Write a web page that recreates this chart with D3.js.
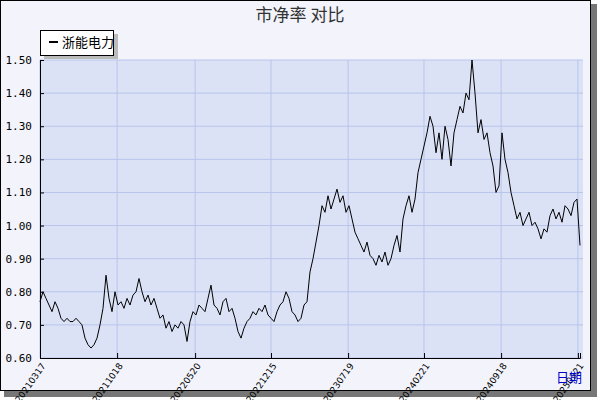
<!DOCTYPE html>
<html><head><meta charset="utf-8">
<script src="https://cdn.jsdelivr.net/npm/d3@7"></script>
<style>body{margin:0;background:#fff}svg{display:block}</style>
</head><body><svg width="600" height="400"></svg>
<script>
var values = [
 0.77,0.80,0.78,0.76,0.74,0.77,0.75,0.72,0.71,0.72,
 0.71,0.71,0.72,0.71,0.70,0.66,0.64,0.63,0.64,0.66,
 0.70,0.75,0.85,0.78,0.74,0.80,0.76,0.77,0.75,0.78,
 0.76,0.79,0.80,0.84,0.80,0.77,0.79,0.76,0.78,0.75,
 0.72,0.73,0.69,0.71,0.68,0.70,0.69,0.71,0.70,0.65,
 0.71,0.74,0.73,0.76,0.75,0.74,0.78,0.82,0.76,0.75,
 0.73,0.77,0.78,0.74,0.75,0.72,0.68,0.66,0.69,0.71,
 0.72,0.74,0.73,0.75,0.74,0.76,0.73,0.72,0.71,0.74,
 0.76,0.77,0.80,0.78,0.74,0.73,0.71,0.72,0.76,0.77,
 0.86,0.90,0.95,1.00,1.06,1.04,1.09,1.05,1.08,1.11,
 1.07,1.09,1.04,1.06,1.02,0.98,0.96,0.94,0.92,0.95,
 0.91,0.90,0.88,0.91,0.89,0.92,0.88,0.90,0.94,0.97,
 0.92,1.02,1.06,1.09,1.04,1.08,1.16,1.20,1.24,1.28,
 1.33,1.30,1.22,1.28,1.20,1.30,1.26,1.18,1.28,1.32,
 1.36,1.34,1.40,1.38,1.50,1.40,1.28,1.32,1.26,1.28,
 1.22,1.18,1.10,1.12,1.28,1.20,1.16,1.10,1.06,1.02,
 1.04,1.00,1.02,1.04,1.00,1.01,0.99,0.96,0.99,0.98,
 1.03,1.05,1.02,1.04,1.01,1.06,1.05,1.03,1.07,1.08,
 0.94
];
var tickLabels = ["20210317","20211018","20220520","20221215","20230719","20240221","20240918","20250321"];
var tickIndex = [0, 25.7, 51.7, 77, 102.7, 128, 153.7, 179.3];
var yTicks = [0.60,0.70,0.80,0.90,1.00,1.10,1.20,1.30,1.40,1.50];

var svg = d3.select("svg");
var pLeft = 40, pRight = 580, pTop = 60, pBottom = 358;

// outer frame with shadow
svg.append("rect").attr("x",4).attr("y",4).attr("width",593).attr("height",393).attr("fill","#777");
svg.append("rect").attr("x",0.5).attr("y",0.5).attr("width",590).attr("height",390)
  .attr("fill","#f2f3fb").attr("stroke","#000");

var x = d3.scaleLinear().domain([0, values.length - 1]).range([pLeft, pRight]);
var y = d3.scaleLinear().domain([0.6, 1.5]).range([pBottom, pTop]);

svg.append("rect").attr("x",pLeft).attr("y",pTop).attr("width",pRight-pLeft+3).attr("height",pBottom-pTop)
  .attr("fill","#dce2f6");

// grid
svg.selectAll(".gy").data(yTicks).enter().append("line")
  .attr("x1",pLeft).attr("x2",pRight+3).attr("y1",d=>y(d)).attr("y2",d=>y(d))
  .attr("stroke","#b7c4ea");
svg.selectAll(".gx").data(tickIndex).enter().append("line")
  .attr("x1",d=>x(d)).attr("x2",d=>x(d)).attr("y1",pTop).attr("y2",pBottom)
  .attr("stroke","#b7c4ea");

// axes
var yAxis = svg.append("g").attr("transform","translate("+pLeft+",0)")
  .call(d3.axisLeft(y).tickValues(yTicks).tickFormat(d3.format(".2f")).tickSize(-4).tickPadding(8));
var xAxis = svg.append("g").attr("transform","translate(0,"+pBottom+")")
  .call(d3.axisBottom(x).tickValues(tickIndex).tickFormat((d,i)=>tickLabels[i]).tickSize(-5));
[yAxis, xAxis].forEach(function(a){
  a.select(".domain").attr("stroke","#000");
  a.selectAll("line").attr("stroke","#000");
  a.selectAll("text").attr("fill","#000").attr("font-family","DejaVu Sans Mono, monospace").attr("font-size",11);
});
xAxis.selectAll("text").attr("font-size",9).attr("font-family","DejaVu Sans, sans-serif")
  .attr("text-anchor","end").attr("y",0).attr("dy","0.35em")
  .attr("transform","translate(3,6) rotate(-55)");

// line
svg.append("path").datum(values)
  .attr("d", d3.line().x((d,i)=>x(i)).y(d=>y(d)))
  .attr("fill","none").attr("stroke","#000").attr("stroke-width",1);

// title
svg.append("text").attr("x",300).attr("y",21).attr("text-anchor","middle")
  .attr("font-family","Noto Sans CJK SC").attr("font-size",17).attr("fill","#333").text("市净率  对比");

// legend
svg.append("rect").attr("x",44).attr("y",34).attr("width",74).attr("height",25).attr("fill","#bbb");
svg.append("rect").attr("x",40.5).attr("y",30.5).attr("width",73).attr("height",25).attr("fill","#fff").attr("stroke","#000");
svg.append("line").attr("x1",49).attr("x2",58).attr("y1",42).attr("y2",42).attr("stroke","#000").attr("stroke-width",2);
svg.append("text").attr("x",62).attr("y",47).attr("font-family","Noto Sans CJK SC").attr("font-size",13).text("浙能电力");

svg.append("text").attr("x",556).attr("y",382).attr("font-family","Noto Sans CJK SC").attr("font-size",13)
  .attr("fill","#0000cc").text("日期");
</script></body></html>
